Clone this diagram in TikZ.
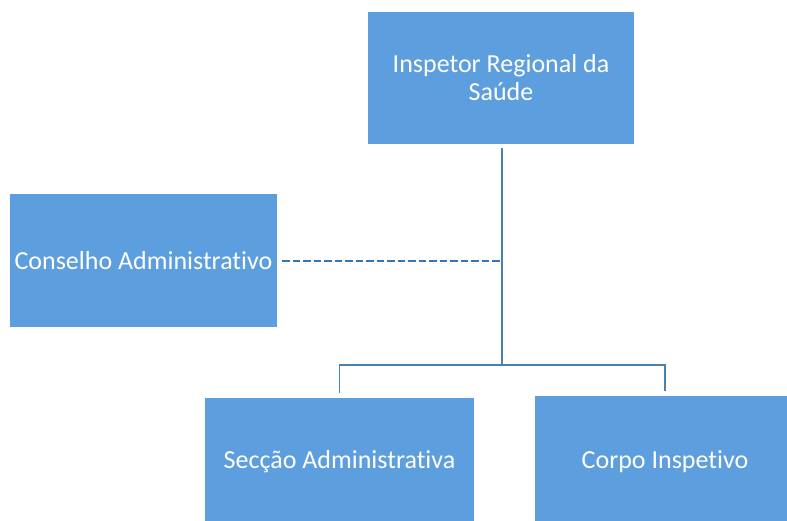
\documentclass[tikz,border=0pt]{standalone}
\usepackage{fontspec}
\setmainfont{Carlito}[Ligatures=NoCommon]
\definecolor{boxblue}{RGB}{92,158,222}
\definecolor{linkblue}{RGB}{74,128,178}
\definecolor{dashblue}{RGB}{52,118,182}
\begin{document}
\begin{tikzpicture}[x=1pt,y=-1pt,
  orgbox/.style={rectangle, fill=boxblue, draw=none, text=white, align=center,
    inner sep=0pt, font=\fontsize{26}{28}\selectfont},
  link/.style={draw=linkblue, line width=1.7pt},
  dashlink/.style={draw=dashblue, line width=2pt, dash pattern=on 7.5pt off 3pt}]
  \useasboundingbox (0,0) rectangle (787,520);
  \clip (0,0) rectangle (787,520);
  % boxes
  \node[orgbox, minimum width=266pt, minimum height=132pt] (top) at (501,78)
    {Inspetor Regional da\\Saúde};
  \node[orgbox, minimum width=267pt, minimum height=133pt] (council) at (143.5,260.5)
    {Conselho Administrativo};
  \node[orgbox, minimum width=269pt, minimum height=128pt] (secc) at (339.5,462)
    {Secção Administrativa};
  \node[orgbox, minimum width=260pt, minimum height=132pt] (corpo) at (665,462)
    {Corpo Inspetivo};
  % junction below the head
  \coordinate (j) at (502,365);
  % connectors
  \draw[link, shorten <=4pt] (top.south -| j) -- (j);
  \draw[link, shorten >=5pt] (j) -| (secc.north);
  \draw[link, shorten >=5pt] (j) -| (corpo.north);
  \draw[dashlink, shorten <=5pt] (council.east) -- (council.east -| j);
\end{tikzpicture}
\end{document}
